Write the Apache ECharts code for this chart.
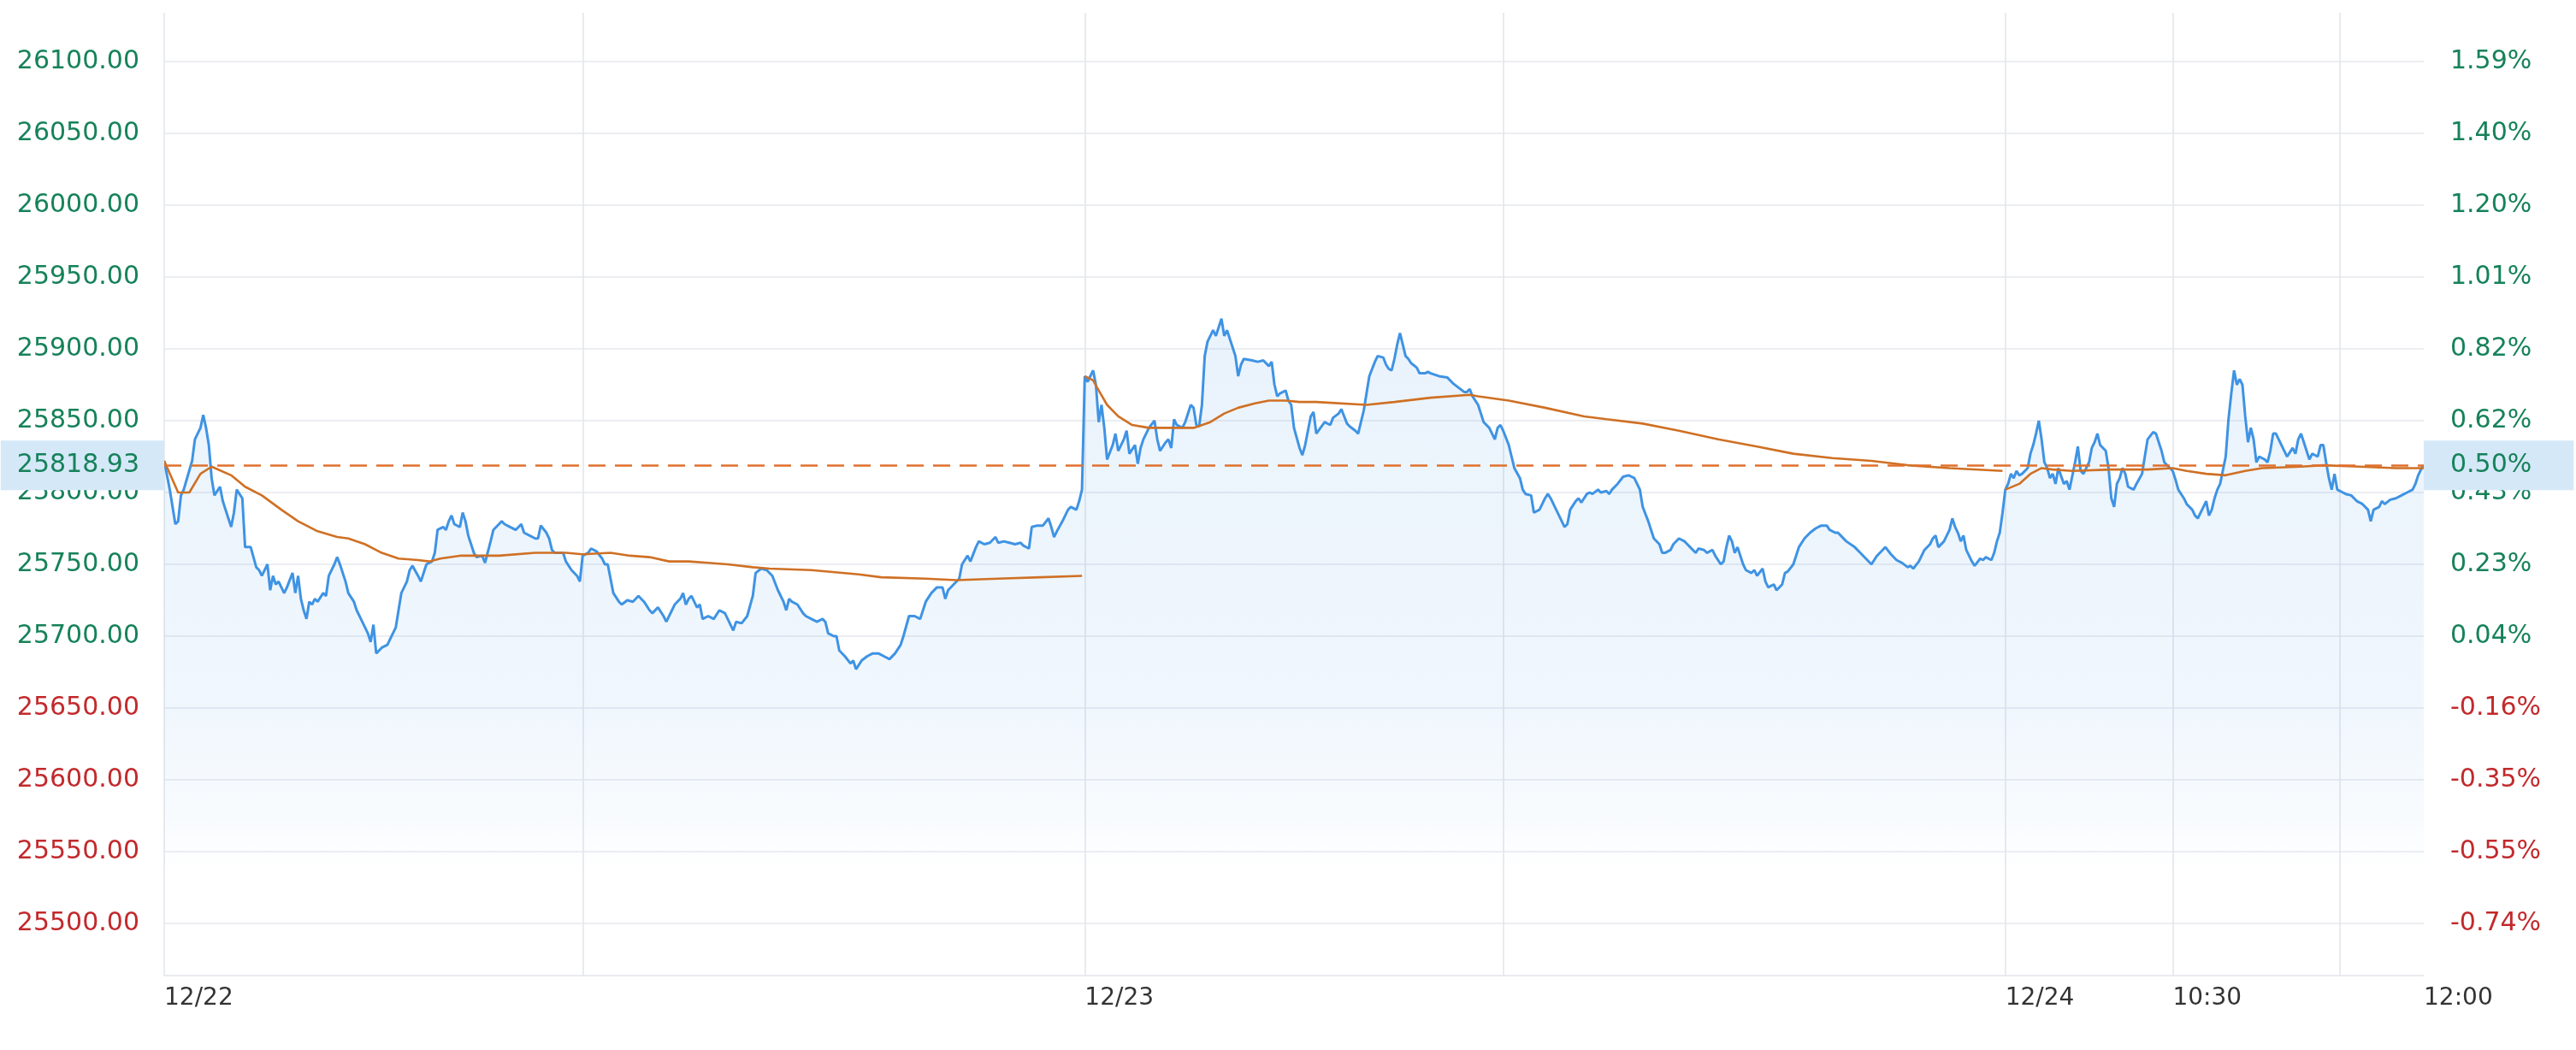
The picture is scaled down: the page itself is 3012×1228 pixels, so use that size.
<!DOCTYPE html>
<html><head><meta charset="utf-8">
<script src="https://cdn.jsdelivr.net/npm/echarts@6/dist/echarts.min.js"></script>
<style>html,body{margin:0;padding:0;background:#fff}#c{width:3012px;height:1228px}</style>
</head><body><div id="c"></div>
<script>
// ---- axis / tick definitions ----
const days = ['12/22', '12/23', '12/24'];
const dayMinutes = [330, 330, 150];
const xTickIdx = [0, 330, 660, 720, 810];
const xTickText = ['12/22', '12/23', '12/24', '10:30', '12:00'];
const vLineIdx = [0, 150, 330, 480, 660, 720, 780];
const yTicks = [25500, 25550, 25600, 25650, 25700, 25750, 25800, 25850, 25900, 25950, 26000, 26050, 26100];
const yTickPct = ['-0.74%', '-0.55%', '-0.35%', '-0.16%', '0.04%', '0.23%', '0.43%', '0.62%', '0.82%', '1.01%', '1.20%', '1.40%', '1.59%'];
const prevClose = 25690.5;
const lastPrice = 25818.93;
const lastPct = '0.50%';

// ---- price (minute index, value) ----
const priceIdx = [
0,2,4,5,6,7,10,11,13,14,15,16,17,18,20,21,23,24,25,26,28,29,31,33,34,35,37,38,39,40,41,43,44,46,47,48,49,50,51,52,53,54,55,57,58,59,61,62,63,65,66,68,69,71,73,74,75,76,78,80,81,83,84,85,87,88,89,91,92,93,94,96,97,98,100,101,102,103,104,106,107,108,109,111,112,114,115,117,118,120,121,122,124,126,128,129,131,133,134,135,137,138,139,140,141,143,144,146,148,149,
150,152,153,155,157,158,159,161,163,164,166,168,170,172,174,175,177,179,180,182,183,185,186,187,188,189,191,192,193,195,197,199,201,202,204,205,207,209,211,212,214,216,218,220,222,223,224,225,227,229,230,232,234,236,237,238,240,241,242,244,246,247,248,250,252,254,256,258,260,262,264,265,267,269,271,273,275,277,279,280,281,283,285,286,288,289,291,292,294,296,298,299,301,303,305,307,308,310,311,313,315,317,318,319,320,322,324,325,327,328,329,
330,331,333,334,335,336,337,338,340,341,342,344,345,346,348,349,350,351,353,355,356,357,359,360,361,362,363,365,366,368,369,370,371,372,373,374,376,377,379,380,381,383,384,385,386,387,390,392,394,396,397,398,399,400,402,403,404,405,407,408,409,411,412,413,416,418,419,421,422,423,424,425,427,428,429,430,431,432,434,435,437,438,439,440,441,442,443,444,445,446,447,449,450,452,453,454,457,460,462,464,466,467,468,469,471,472,473,475,476,477,478,479,
480,482,483,484,486,487,488,490,491,493,494,495,496,497,499,501,502,503,504,506,507,508,510,511,512,514,515,517,518,519,521,523,525,526,527,529,530,532,533,534,536,537,538,540,541,543,545,546,547,549,550,552,553,555,556,558,559,560,561,562,563,564,566,567,569,570,571,573,574,575,577,578,580,581,582,584,585,586,588,590,592,594,596,597,599,600,601,603,606,608,610,612,614,616,617,619,621,623,625,626,627,629,630,631,633,634,635,636,638,639,640,641,642,643,644,645,646,647,648,649,651,652,653,655,656,657,658,659,
660,661,662,663,664,665,666,668,669,670,671,672,673,674,675,676,677,678,679,681,682,683,685,686,687,688,690,691,692,693,694,696,697,698,699,700,701,702,703,704,706,707,709,710,711,713,714,716,717,718,720,721,722,724,725,727,728,729,731,732,733,734,735,736,737,739,740,741,742,743,744,745,746,747,748,749,750,751,753,754,755,756,757,759,760,761,763,764,765,766,768,769,770,772,773,774,775,776,777,778,779,781,782,784,786,788,790,791,792,794,795,796,798,800,802,804,806,807,808,809,810
];
const priceVal = [
25822,25802,25778,25780,25798,25802,25822,25837,25845,25854,25845,25833,25810,25798,25804,25794,25782,25776,25786,25802,25796,25762,25762,25748,25746,25742,25750,25732,25742,25736,25738,25730,25734,25744,25730,25742,25726,25718,25712,25724,25722,25726,25724,25730,25728,25742,25750,25755,25750,25738,25730,25724,25718,25710,25702,25696,25708,25688,25692,25694,25698,25706,25718,25730,25738,25746,25749,25742,25738,25744,25750,25752,25758,25774,25776,25774,25780,25784,25778,25776,25786,25780,25770,25758,25755,25756,25751,25766,25774,25778,25780,25778,25776,25774,25778,25772,25770,25768,25768,25777,25772,25768,25760,25758,25758,25758,25752,25746,25742,25738,
25756,25758,25761,25759,25754,25750,25750,25730,25724,25722,25725,25724,25728,25724,25718,25716,25720,25714,25710,25718,25722,25726,25730,25722,25726,25728,25720,25722,25712,25714,25712,25718,25716,25712,25704,25710,25709,25714,25728,25744,25747,25746,25742,25732,25724,25718,25726,25724,25722,25716,25714,25712,25710,25712,25710,25702,25700,25700,25690,25686,25681,25683,25677,25683,25686,25688,25688,25686,25684,25688,25694,25700,25714,25714,25712,25724,25730,25734,25734,25726,25732,25736,25740,25750,25756,25752,25762,25766,25764,25765,25769,25765,25766,25765,25764,25765,25763,25761,25776,25777,25777,25782,25776,25769,25773,25780,25788,25790,25788,25794,25802,
25881,25877,25885,25875,25849,25861,25845,25823,25833,25841,25829,25837,25843,25827,25833,25820,25831,25837,25845,25850,25837,25829,25835,25837,25831,25851,25847,25845,25849,25861,25859,25847,25846,25861,25895,25905,25913,25909,25921,25909,25913,25901,25895,25881,25889,25893,25892,25891,25892,25888,25891,25875,25867,25869,25871,25864,25861,25845,25831,25826,25833,25853,25856,25841,25849,25847,25852,25855,25858,25853,25848,25846,25843,25841,25849,25857,25869,25881,25891,25895,25894,25889,25886,25885,25893,25903,25911,25903,25895,25893,25890,25887,25883,25883,25884,25883,25881,25880,25876,25873,25870,25870,25872,25867,25861,25855,25849,25845,25841,25837,25845,25847,
25843,25833,25825,25817,25810,25802,25799,25798,25786,25788,25792,25796,25799,25796,25788,25780,25776,25778,25788,25794,25796,25793,25799,25800,25799,25802,25800,25801,25799,25802,25806,25811,25812,25811,25810,25802,25790,25780,25774,25768,25764,25758,25758,25760,25764,25768,25766,25764,25762,25758,25761,25760,25758,25760,25756,25750,25752,25762,25770,25766,25758,25762,25750,25746,25744,25746,25742,25747,25738,25734,25736,25732,25736,25744,25745,25750,25756,25762,25768,25772,25775,25777,25777,25774,25772,25772,25770,25766,25762,25758,25754,25750,25756,25760,25762,25757,25753,25751,25748,25749,25747,25752,25756,25760,25764,25768,25770,25762,25766,25770,25774,25782,25776,25772,25766,25770,25760,25756,25752,25749,25754,25753,25755,25753,25758,25766,25772,25786,
25802,25806,25813,25810,25815,25812,25813,25817,25827,25833,25841,25850,25837,25821,25817,25810,25813,25806,25817,25806,25808,25802,25821,25832,25815,25813,25821,25831,25835,25841,25833,25829,25817,25796,25790,25806,25810,25817,25813,25804,25802,25806,25813,25825,25837,25842,25841,25829,25821,25819,25815,25809,25802,25796,25792,25788,25784,25782,25790,25794,25784,25788,25796,25802,25806,25825,25851,25869,25885,25875,25879,25875,25853,25835,25845,25837,25821,25825,25823,25821,25829,25841,25841,25833,25829,25825,25831,25827,25837,25841,25829,25823,25827,25825,25833,25833,25821,25810,25802,25813,25802,25800,25799,25798,25794,25792,25788,25780,25788,25790,25794,25792,25795,25796,25798,25800,25802,25806,25812,25816,25818.93
];

// ---- average price per day ----
const avg1Idx = [0,5,9,13,17,24,29,35,42,48,55,62,66,72,78,84,91,95,99,106,120,133,144,150,160,167,174,181,188,195,202,211,217,232,249,257,273,284,299,314,329];
const avg1Val = [25822,25800,25800,25813,25818,25812,25804,25798,25788,25780,25773,25769,25768,25764,25758,25754,25753,25752,25754,25756,25756,25758,25758,25757,25758,25756,25755,25752,25752,25751,25750,25748,25747,25746,25743,25741,25740,25739,25740,25741,25742];
const avg2Idx = [330,333,335,338,342,347,353,369,375,380,385,391,396,402,407,413,431,441,454,468,471,482,495,509,517,530,543,557,571,584,598,612,625,640,659];
const avg2Val = [25881,25878,25871,25861,25853,25847,25845,25845,25849,25855,25859,25862,25864,25864,25863,25863,25861,25863,25866,25868,25867,25864,25859,25853,25851,25848,25843,25837,25832,25827,25824,25822,25819,25817,25815];
const avg3Idx = [660,665,669,673,677,684,698,711,720,725,732,739,746,752,766,774,787,800,810];
const avg3Val = [25802,25806,25813,25817,25816,25815,25816,25816,25817,25815,25813,25812,25815,25817,25818,25819,25818,25817,25817];

// ---- build ----
const categories = [];
days.forEach((d, di) => {
  const n = dayMinutes[di] + (di === days.length - 1 ? 1 : 0);
  for (let m = 0; m < n; m++) {
    const t = m <= 150 ? 570 + m : 780 + (m - 150);
    const hh = String(Math.floor(t / 60)).padStart(2, '0');
    const mm = String(t % 60).padStart(2, '0');
    categories.push(d + ' ' + hh + ':' + mm);
  }
});
const zip = (a, b) => a.map((x, i) => [x, b[i]]);

const GREEN = '#16825a', RED = '#c2292c';
const FONT = 'DejaVu Sans';
const lblColor = v => (Number(v) > prevClose ? GREEN : RED);
const BOX = '#d5e8f8';

const avgSeries = (idx, val, extra) => Object.assign({
  type: 'line', xAxisIndex: 0, yAxisIndex: 0, data: zip(idx, val),
  showSymbol: false, smooth: false, silent: true, z: 4,
  lineStyle: { color: '#cf7024', width: 2.6 }
}, extra || {});

const option = {
  animation: false,
  backgroundColor: '#ffffff',
  grid: [
    { left: 192, right: 178, top: 72, bottom: 64 },
    { left: 192, right: 178, top: 15, bottom: 87 }
  ],
  xAxis: [
    { type: 'category', gridIndex: 0, data: categories, boundaryGap: false, show: false },
    {
      type: 'category', gridIndex: 1, data: categories, boundaryGap: false,
      axisLine: { show: true, lineStyle: { color: '#e2e5ea', width: 1.5 } },
      axisTick: { show: false },
      axisLabel: {
        interval: (i) => xTickIdx.indexOf(i) >= 0,
        formatter: (v, i) => { const k = xTickIdx.indexOf(i); return k >= 0 ? xTickText[k] : ''; },
        align: 'left', color: '#333333', fontSize: 28, fontFamily: FONT, margin: 13
      },
      splitLine: {
        show: true,
        interval: (i) => vLineIdx.indexOf(i) >= 0,
        lineStyle: { color: '#e3e6eb', width: 1.6 }
      }
    }
  ],
  yAxis: [
    {
      type: 'value', gridIndex: 0, position: 'left', min: 25450, max: 26100, interval: 50,
      axisLine: { show: false }, axisTick: { show: false },
      axisLabel: {
        showMinLabel: false, margin: 29, fontSize: 30, fontFamily: FONT,
        formatter: v => Number(v).toFixed(2), color: lblColor
      },
      splitLine: { show: true, showMinLine: false, lineStyle: { color: '#e6e9ee', width: 1.5 } }
    },
    {
      type: 'value', gridIndex: 0, position: 'right', min: 25450, max: 26100, interval: 50,
      axisLine: { show: false }, axisTick: { show: false },
      axisLabel: {
        showMinLabel: false, margin: 31, fontSize: 30, fontFamily: FONT, align: 'left',
        formatter: v => { const k = yTicks.indexOf(Number(v)); return k >= 0 ? yTickPct[k] : ''; },
        color: lblColor
      },
      splitLine: { show: false }
    },
    { type: 'value', gridIndex: 1, min: 0, max: 1, show: false }
  ],
  series: [
    {
      type: 'line', xAxisIndex: 0, yAxisIndex: 0, data: zip(priceIdx, priceVal),
      showSymbol: false, z: 3,
      lineStyle: { color: '#3f93e3', width: 3 },
      areaStyle: {
        origin: 25462.5,
        color: {
          type: 'linear', x: 0, y: 0, x2: 0, y2: 1,
          colorStops: [
            { offset: 0, color: 'rgba(63,147,227,0.16)' },
            { offset: 0.6, color: 'rgba(63,147,227,0.11)' },
            { offset: 0.76, color: 'rgba(63,147,227,0.05)' },
            { offset: 0.84, color: 'rgba(63,147,227,0.0)' },
            { offset: 1, color: 'rgba(63,147,227,0.0)' }
          ]
        }
      },
      markLine: {
        silent: true, symbol: ['none', 'none'],
        data: [
          {
            yAxis: lastPrice,
            lineStyle: { color: '#e0702e', width: 2.6, type: [20, 11] },
            label: {
              show: true, position: 'start', distance: 0, formatter: lastPrice.toFixed(2),
              color: GREEN, fontSize: 30, fontFamily: FONT,
              backgroundColor: BOX, padding: [14, 29, 14, 19]
            }
          }
        ]
      }
    },
    avgSeries(avg1Idx, avg1Val),
    avgSeries(avg2Idx, avg2Val),
    avgSeries(avg3Idx, avg3Val, {
      markLine: {
        silent: true, symbol: ['none', 'none'],
        data: [
          {
            yAxis: lastPrice,
            lineStyle: { color: 'rgba(0,0,0,0)', width: 1 },
            label: {
              show: true, position: 'end', distance: 0, formatter: lastPct,
              color: GREEN, fontSize: 30, fontFamily: FONT,
              backgroundColor: BOX, padding: [14, 49, 14, 31]
            }
          }
        ]
      }
    })
  ]
};
echarts.init(document.getElementById('c')).setOption(option);
</script></body></html>
